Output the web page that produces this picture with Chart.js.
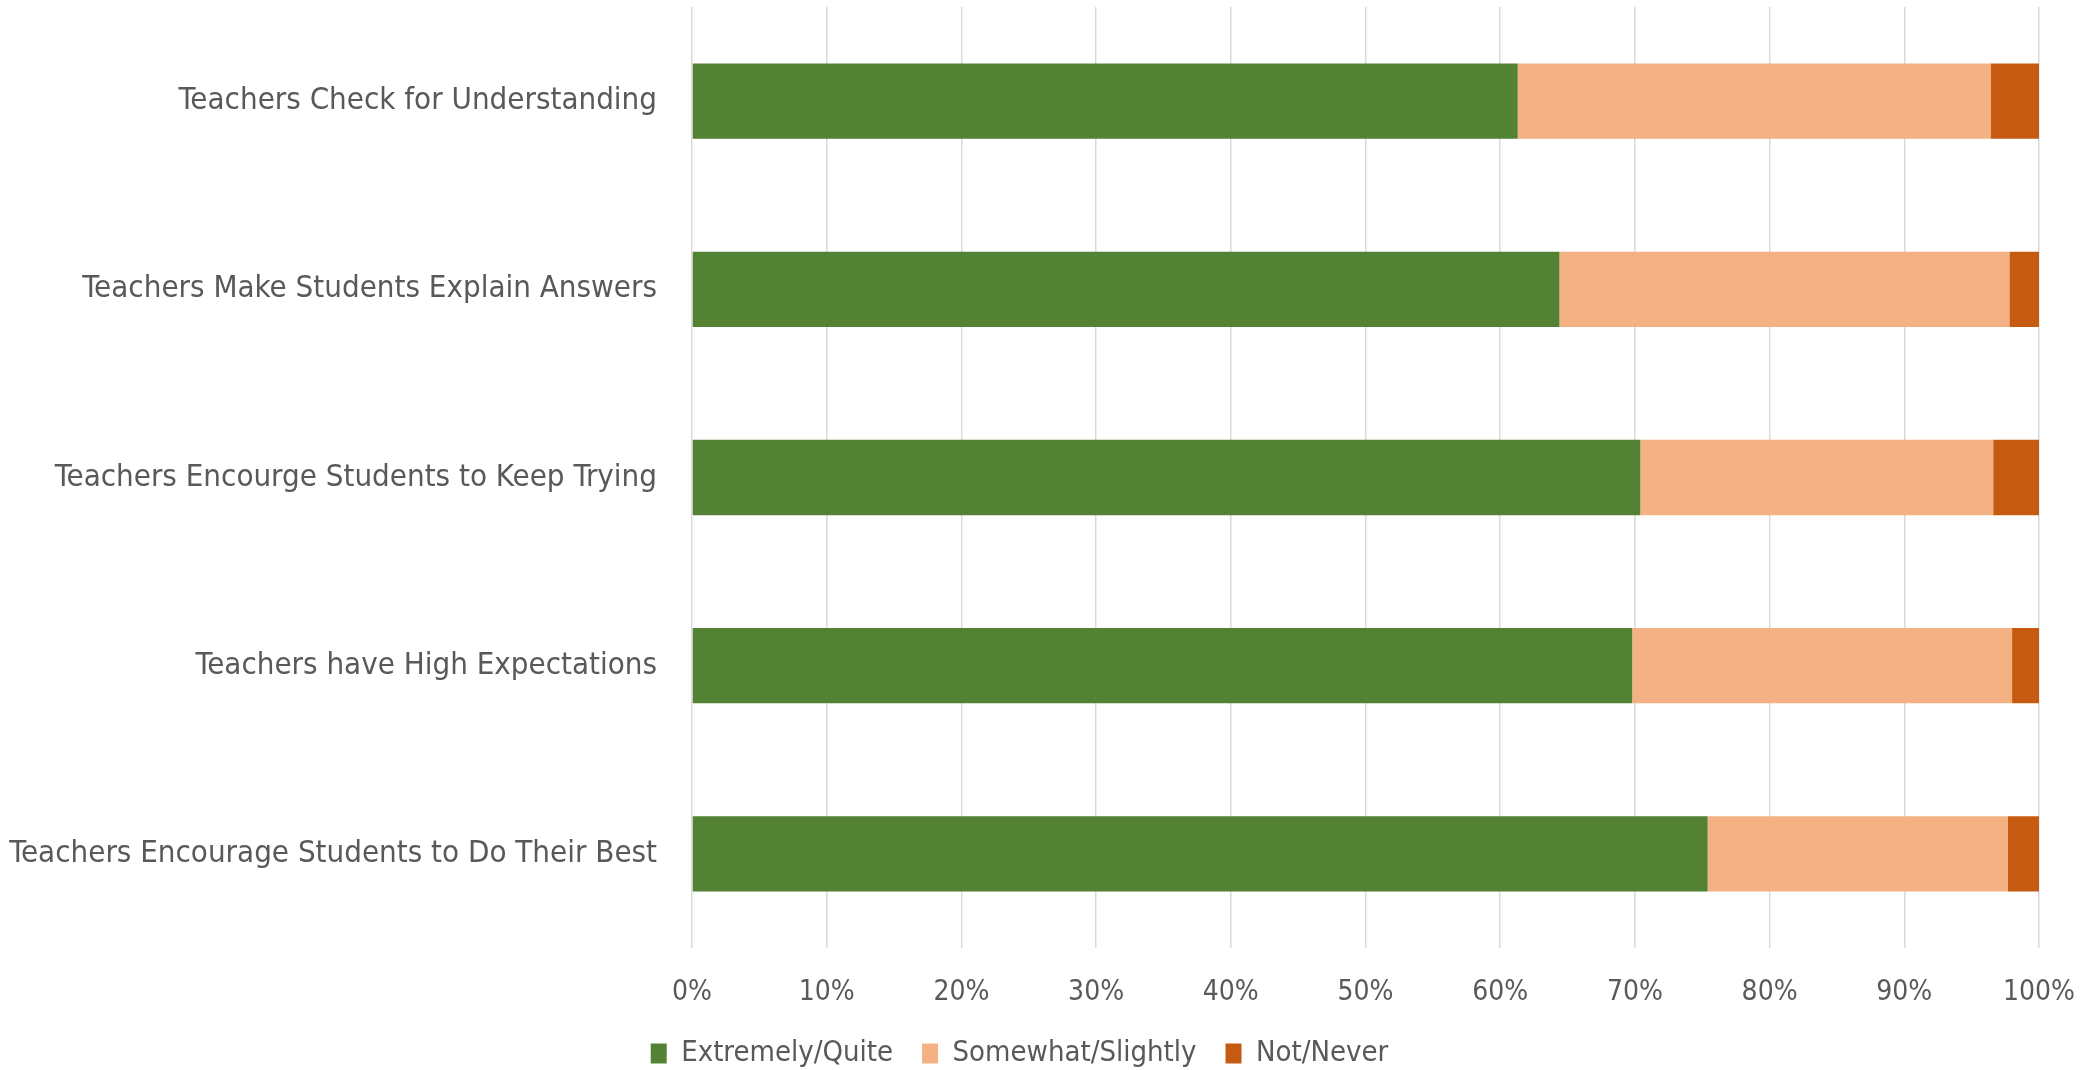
<!DOCTYPE html>
<html>
<head>
<meta charset="utf-8">
<script src="https://cdn.jsdelivr.net/npm/chart.js@4.4.1/dist/chart.umd.min.js"></script>
<style>
  html, body { margin: 0; padding: 0; background: #fff; }
  #wrap { width: 2095px; height: 1070px; position: relative; }
</style>
</head>
<body>
<div id="wrap"><canvas id="teacherChart"></canvas></div>
<script>
// --- Data ---
const categories = [
    'Teachers Check for Understanding',
    'Teachers Make Students Explain Answers',
    'Teachers Encourge Students to Keep Trying',
    'Teachers have High Expectations',
    'Teachers Encourage Students to Do Their Best'
];
const extremelyQuite = [61.3, 64.4, 70.4, 69.8, 75.4];
const somewhatSlightly = [35.1, 33.4, 26.2, 28.2, 22.3];
const notNever = [3.6, 2.2, 3.4, 2.0, 2.3];
const tickLabels = ['0%', '10%', '20%', '30%', '40%', '50%', '60%', '70%', '80%', '90%', '100%'];

// no narrow font installed, so the condensed DejaVu is sized to match label widths
const FONT = '"Liberation Sans Narrow", "DejaVu Sans Condensed", "Liberation Sans", sans-serif';
const TEXT = '#595959';

const ctx = document.getElementById('teacherChart').getContext('2d');
const teacherChart = new Chart(ctx, {
    type: 'bar',
    data: {
        labels: categories,
        datasets: [
            { label: 'Extremely/Quite', data: extremelyQuite, backgroundColor: '#548235' },
            { label: 'Somewhat/Slightly', data: somewhatSlightly, backgroundColor: '#F4B183' },
            { label: 'Not/Never', data: notNever, backgroundColor: '#C55A11' }
        ]
    },
    options: {
        indexAxis: 'y',
        responsive: true,
        maintainAspectRatio: false,
        animation: false,
        datasets: {
            bar: { categoryPercentage: 1, barPercentage: 0.4 }
        },
        layout: { padding: { top: 7, right: 56, bottom: -8, left: 0 } },
        scales: {
            x: {
                stacked: true,
                min: 0,
                max: 100,
                grid: { color: '#D9D9D9', lineWidth: 1.5, drawTicks: false },
                border: { display: false },
                ticks: {
                    stepSize: 10,
                    padding: 28,
                    color: TEXT,
                    font: { family: FONT, size: 28 },
                    maxRotation: 0,
                    callback: (v, i) => tickLabels[i]
                },
                afterFit: s => { s.paddingLeft = 0; s.paddingRight = 0; s.height = 62; }
            },
            y: {
                stacked: true,
                grid: { display: false, drawTicks: false },
                border: { display: false },
                ticks: {
                    padding: 35,
                    color: TEXT,
                    font: { family: FONT, size: 31 }
                },
                afterFit: s => { s.width = 692; s.paddingTop = 0; s.paddingBottom = 0; }
            }
        },
        plugins: {
            legend: {
                position: 'bottom',
                labels: {
                    color: TEXT,
                    font: { family: FONT, size: 29 },
                    boxWidth: 16,
                    boxHeight: 20,
                    padding: 29
                }
            },
            tooltip: { enabled: false }
        }
    }
});
</script>
</body>
</html>
